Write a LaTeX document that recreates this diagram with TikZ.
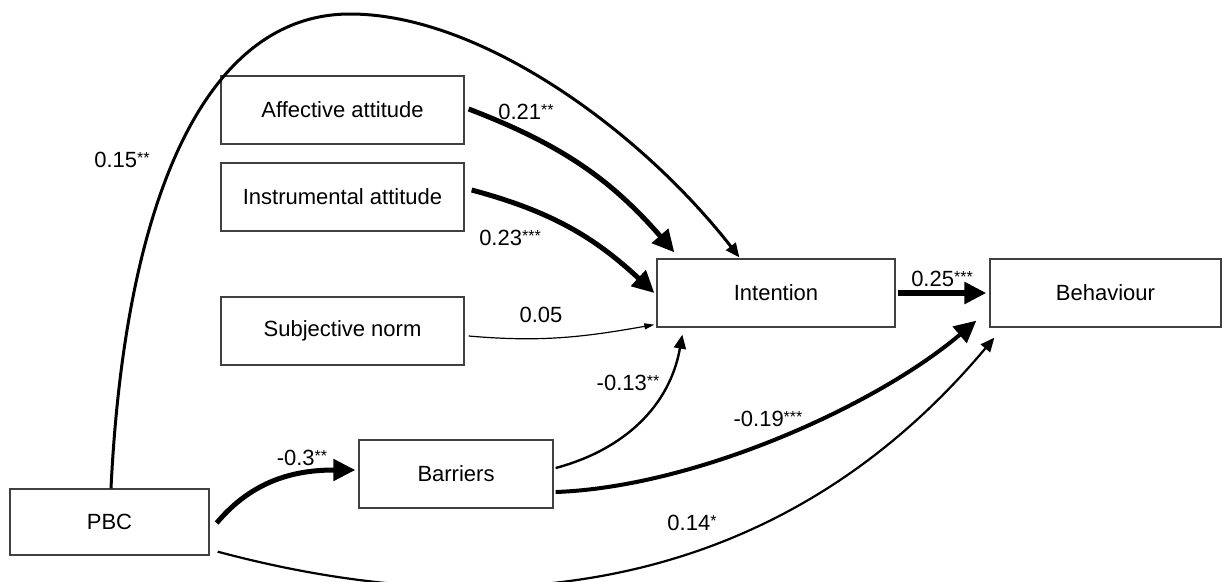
\documentclass[tikz,border=0pt]{standalone}
\usepackage{fontspec}
\setmainfont{Liberation Sans}
\usetikzlibrary{arrows.meta}
\newcommand\stars[1]{\raisebox{4.5pt}{\fontsize{16}{16}\selectfont#1}}

\begin{document}
\begin{tikzpicture}
        [x=1pt,y=-1pt,
         font=\fontsize{22}{26}\selectfont,
         box/.style={draw=black!75,line width=1.3pt,minimum height=68pt,inner sep=0pt},
         light path/.style={line width=1.2pt,-{Triangle[length=10pt,width=6pt]}},
         medium path/.style={line width=3pt,-{Triangle[length=14pt,width=12pt]}},
         heavy path/.style={line width=5pt,-{Triangle[length=22pt,width=21pt]}}]
        \useasboundingbox (0,0) rectangle (1223,581);
        \node (affective) [box,minimum width=243pt] at (342.5,110) {Affective attitude};
        \node (instrumental) [box,minimum width=243pt] at (342.5,197) {Instrumental attitude};
        \node (subjective norm) [box,minimum width=243pt] at (342.5,331) {Subjective norm};
        \node (intention) [box,minimum width=238pt] at (776,293) {Intention};
        \node (behaviour) [box,minimum width=231pt] at (1105.5,293) {Behaviour};
        \node (barriers) [box,minimum width=194pt] at (456,474) {Barriers};
        \node (pbc) [box,minimum width=199pt,minimum height=66pt] at (109.5,522) {PBC};
        \draw [medium path]
          ([xshift=1.5pt]pbc.north)
          .. controls (125,200) and (205,14) .. (350,14)
          .. controls (480,14) and (640,130) .. ([xshift=83pt,yshift=1pt]intention.north west)
        ;
        \node (pbc intention label) at (122,160) {0.15\stars{**}};
        \draw [heavy path]
          ([xshift=4pt,yshift=1pt]affective.east)
          to [out=-21,in=131] ([xshift=18pt,yshift=6pt]intention.north west)
        ;
        \node (affective label) at (526,112) {0.21\stars{**}};
        \draw [heavy path]
          ([xshift=7pt,yshift=7pt]instrumental.east)
          to [out=-15,in=137] ([xshift=-2pt]intention.west)
        ;
        \node (instrumental label) at (510,238) {0.23\stars{***}};
        \draw [light path]
          ([xshift=4pt,yshift=-5pt]subjective norm.east)
          to [out=-5,in=190] ([xshift=-2pt,yshift=3pt]intention.south west)
        ;
        \node (subjective norm label) at (541,315) {0.05};
        \draw [heavy path]
          ([xshift=7pt,yshift=-1pt]pbc.east)
          to [out=50,in=180] ([xshift=-3pt,yshift=4pt]barriers.west)
        ;
        \node (pbc barriers label) at (302,458) {-0.3\stars{**}};
        \draw [medium path,line width=2.4pt]
          ([xshift=2pt,yshift=6pt]barriers.east)
          to [out=15,in=-100] ([xshift=26pt,yshift=-7pt]intention.south west)
        ;
        \node (barriers intention label) at (628,383) {-0.13\stars{**}};
        \draw [heavy path,line width=4pt]
          ([xshift=2pt,yshift=-18pt]barriers.east)
          .. controls +(140,-5) and +(-100,85) .. ([xshift=-13pt,yshift=7pt]behaviour.south west)
        ;
        \node (barriers behaviour label) at (768,419) {-0.19\stars{***}};
        \draw [medium path,line width=2.2pt]
          ([xshift=8pt,yshift=4pt]pbc.south east)
          to [out=-15,in=-130] ([xshift=5pt,yshift=-10pt]behaviour.south west)
        ;
        \node (pbc behaviour label) at (692,523) {0.14\stars{*}};
        \draw [heavy path,line width=6pt]
          ([xshift=2pt]intention.east)
          -- ([xshift=-3pt]behaviour.west)
        ;
        \node (intention label) at (942,279) {0.25\stars{***}};
      \end{tikzpicture}
\end{document}
